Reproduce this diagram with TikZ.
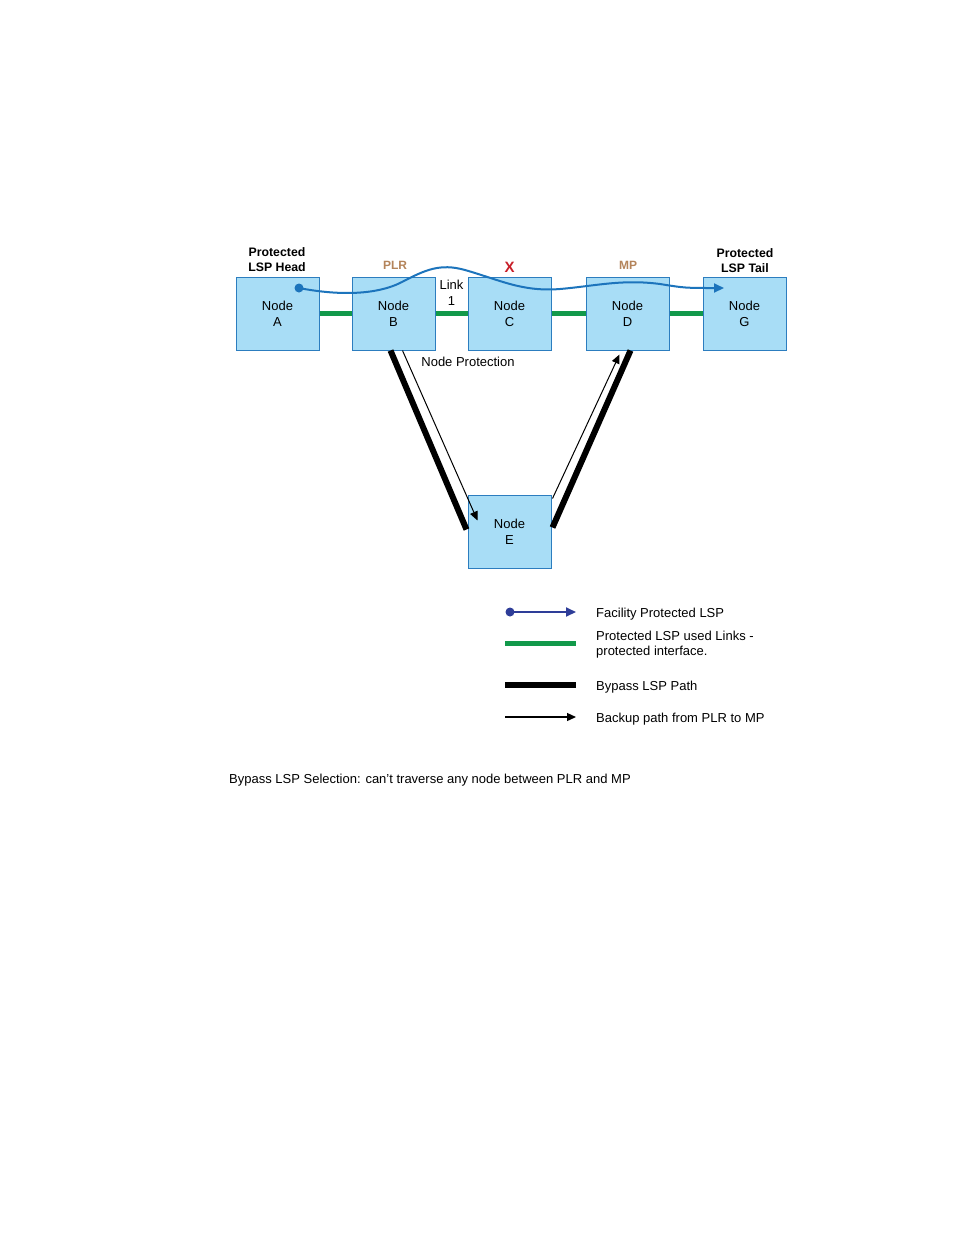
\documentclass[tikz,border=0pt]{standalone}
\usepackage{fontspec}
\setmainfont{Liberation Sans}
\usetikzlibrary{arrows.meta,calc}
\definecolor{boxfill}{HTML}{A8DDF6}
\definecolor{boxline}{HTML}{2C7DBF}
\definecolor{linkgreen}{HTML}{12994A}
\definecolor{tan}{HTML}{B4845A}
\definecolor{xred}{HTML}{C8202A}
\definecolor{lspblue}{HTML}{1C74BC}
\definecolor{legblue}{HTML}{2E3D98}
\tikzset{
  nodebox/.style={draw=boxline, fill=boxfill, line width=1pt, minimum width=83pt, minimum height=73pt, align=center, font=\fontsize{13}{16}\selectfont, inner sep=0pt},
  lbl/.style={align=center, font=\fontsize{13}{16}\selectfont, inner sep=0pt},
  boldlbl/.style={align=center, font=\bfseries\fontsize{12.3}{15}\selectfont, inner sep=0pt},
  roletxt/.style={font=\bfseries\fontsize{12}{13}\selectfont, text=tan, inner sep=0pt},
  greenlink/.style={draw=linkgreen, line width=5pt},
  bypass/.style={draw=black, line width=6pt},
  backup/.style={draw=black, line width=1pt, -{Triangle[length=9pt,width=8pt]}},
  lsp/.style={draw=lspblue, line width=2pt, -{Triangle[length=10pt,width=9pt]}},
  legtxt/.style={anchor=west, align=left, font=\fontsize{13}{15}\selectfont, inner sep=0pt, yshift=-1.8pt},
}
\begin{document}
\begin{tikzpicture}[x=1pt,y=-1pt]
\useasboundingbox (0,0) rectangle (954,1235);
\fill[white] (0,0) rectangle (954,1235);

\node[nodebox] (A) at (277.5,313.5) {Node\\A};
\node[nodebox] (B) at (393.5,313.5) {Node\\B};
\node[nodebox] (C) at (509.5,313.5) {Node\\C};
\node[nodebox] (D) at (627.5,313.5) {\raisebox{2pt}{\parbox{50pt}{\centering Node\\D}}};
\node[nodebox] (G) at (744.5,313.5) {\raisebox{2pt}{\parbox{50pt}{\centering Node\\G}}};
\node[nodebox] (E) at (509.5,531.5) {Node\\E};

\draw[greenlink] (A.east) -- (B.west);
\draw[greenlink] (B.east) -- (C.west);
\draw[greenlink] (C.east) -- (D.west);
\draw[greenlink] (D.east) -- (G.west);

% labels
\node[boldlbl] (headlbl) at (277,259.5) {Protected\\LSP Head};
\node[boldlbl] (taillbl) at (745,260.5) {Protected\\LSP Tail};
\node[roletxt] (plr) at (395,265) {PLR};
\node[roletxt] (mp) at (628,265) {MP};
\node[font=\bfseries\fontsize{15}{15}\selectfont, text=xred, inner sep=0pt] (xmark) at (509.5,267.5) {X};
\node[lbl] (link1) at (451.5,292.5) {Link\\1};
\node[lbl] (nprot) at (468,361.5) {Node Protection};

% bypass lines
\draw[bypass] ($(B.south)+(-3,0)$) -- ($(E.west)+(-1,-2)$);
\draw[backup] ($(B.south)+(9,0)$) -- ($(E.north west)+(10,26)$);
\draw[bypass] ($(E.east)+(1,-4)$) -- ($(D.south)+(3,0)$);
\draw[backup] ($(E.north east)+(1,4)$) -- ($(D.south)+(-8,4)$);

% facility protected LSP
\coordinate (s) at (299,288);
\coordinate (t) at (724,288);
\fill[lspblue] (s) circle (4.5pt);
\draw[lsp] (s) .. controls (335,295) and (375,296) .. (402,282)
  .. controls (425,270) and (440,263) .. (465,270)
  .. controls (500,280) and (522,292) .. (560,289)
  .. controls (595,286) and (622,279) .. (660,284)
  .. controls (685,288) .. (t);

% legend
\coordinate (l1a) at (510,612); \coordinate (l1b) at (576,612);
\fill[legblue] (l1a) circle (4.5pt);
\draw[draw=legblue, line width=1.8pt, -{Triangle[length=10pt,width=9pt]}] (l1a) -- (l1b);
\node[legtxt] (t1) at (596,612) {Facility Protected LSP};
\coordinate (l2a) at (505,643); \coordinate (l2b) at (576,643);
\draw[greenlink] (l2a) -- (l2b);
\node[legtxt] (t2) at (596,642.5) {Protected LSP used Links -\\protected interface.};
\coordinate (l3a) at (505,685); \coordinate (l3b) at (576,685);
\draw[bypass] (l3a) -- (l3b);
\node[legtxt] (t3) at (596,685) {Bypass LSP Path};
\coordinate (l4a) at (505,717); \coordinate (l4b) at (576,717);
\draw[backup, line width=1.3pt] (l4a) -- (l4b);
\node[legtxt] (t4) at (596,717) {Backup path from PLR to MP};

\node[legtxt] (note) at (229,778) {Bypass LSP Selection: can't traverse any node between PLR and MP};
\end{tikzpicture}
\end{document}
